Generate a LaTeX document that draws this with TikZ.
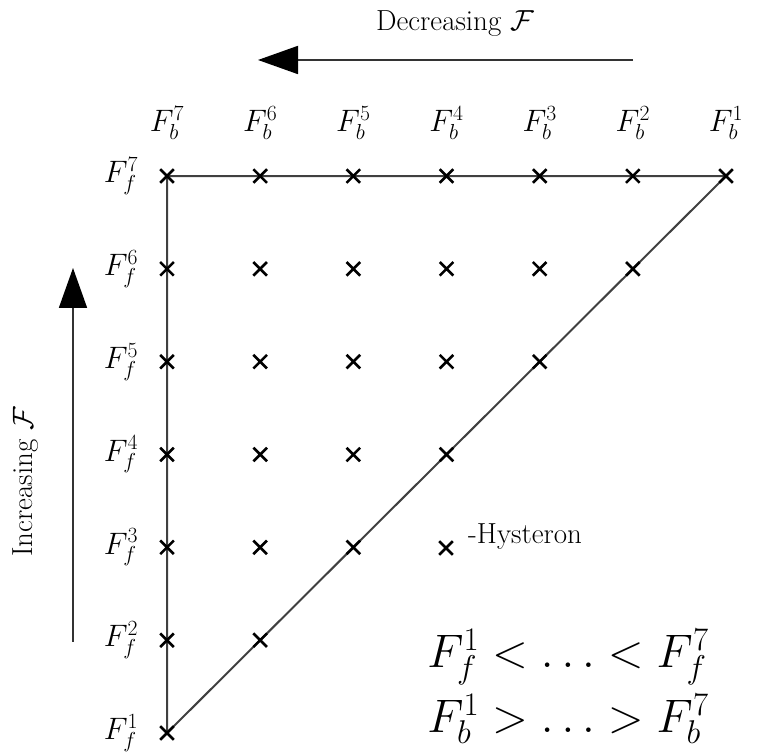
\RequirePackage{fix-cm}
\documentclass[tikz,border=0pt]{standalone}
\usetikzlibrary{arrows.meta,shapes.misc,positioning,backgrounds}
\tikzset{
  hgrid/.style={x=1pt,y=1pt},
  hcross/.style={draw,cross out,line width=2.6pt,minimum size=11pt,inner sep=0pt},
  hline/.style={line width=2pt,black!75},
  bigarrow/.style={line width=1.8pt,black!80,-{Triangle[length=40pt,width=28pt,fill=black,color=black]}},
  flabel/.style={font=\fontsize{31}{36}\selectfont,inner sep=0pt},
  wtext/.style={font=\fontsize{29}{34}\selectfont,inner sep=0pt},
  ineq/.style={font=\fontsize{47}{54}\selectfont,inner sep=0pt},
}

\begin{document}
\begin{tikzpicture}[hgrid]
    \useasboundingbox (0,0) rectangle (771,755);
    \def\dx{93.17}
    \def\dy{92.83}
    % hysterons: row j holds columns 1..j
    \foreach \j in {1,...,7}
      \foreach \i in {1,...,\j}
        \node[hcross] (c-\i-\j) at ({167+(\i-1)*\dx},{22+(\j-1)*\dy}) {};
    \begin{scope}[on background layer]
      \draw[hline] (c-1-1.center) -- (c-1-7.center) -- (c-7-7.center) -- cycle;
    \end{scope}
    \foreach \i in {1,...,7} {
      \pgfmathtruncatemacro\k{8-\i}
      \node[flabel,above=53pt of c-\i-7.center,anchor=center] (fb-\k) {$F_b^{\k}$};
    }
    \foreach \j in {1,...,7}
      \node[flabel,left=46pt of c-1-\j.center,anchor=center] (ff-\j) {$F_f^{\j}$};
    % arrows
    \coordinate (dec-s) at (633,695);
    \coordinate (dec-e) at (258,695);
    \draw[bigarrow] (dec-s) -- (dec-e);
    \node[wtext] (dec) at (455,731) {Decreasing $\mathcal{F}$};
    \coordinate (inc-s) at (73,113);
    \coordinate (inc-e) at (73,487);
    \draw[bigarrow] (inc-s) -- (inc-e);
    \node[wtext,rotate=90] (inc) at (26,273) {Increasing $\mathcal{F}$};
    % legend
    \node[hcross] (hyst) at (446,207) {};
    \node[wtext,right=22pt of hyst.center,yshift=11pt] (hyst-lbl) {-Hysteron};
    \node[ineq] (ineq-f) at (568,98) {$F_f^1 < \ldots < F_f^7$};
    \node[ineq] (ineq-b) at (568,36) {$F_b^1 > \ldots > F_b^7$};
\end{tikzpicture}
\end{document}
